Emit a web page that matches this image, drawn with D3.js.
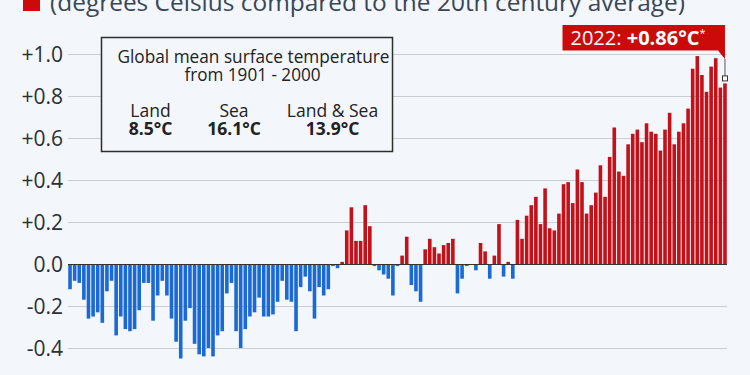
<!DOCTYPE html>
<html>
<head>
<meta charset="utf-8">
<script src="https://cdn.jsdelivr.net/npm/d3@7"></script>
<style>
  html, body { margin: 0; padding: 0; background: #f3f6fa; }
  #chart-container { width: 750px; height: 375px; overflow: hidden; }
  text { font-family: "Open Sans", "Noto Sans", sans-serif; }
</style>
</head>
<body>
<div id="chart-container"></div>
<script>
// years 1880 - 2022
const years = d3.range(1880, 2023);

// anomaly in degrees C vs 20th century average
const anomalies = [
  -0.12, -0.08, -0.09, -0.17, -0.26, -0.25, -0.23, -0.28, -0.13, -0.08,
  -0.34, -0.25, -0.31, -0.32, -0.31, -0.22, -0.09, -0.09, -0.27, -0.15,
  -0.08, -0.15, -0.26, -0.37, -0.45, -0.27, -0.21, -0.38, -0.43, -0.44,
  -0.40, -0.44, -0.34, -0.32, -0.14, -0.09, -0.32, -0.40, -0.31, -0.25,
  -0.23, -0.16, -0.25, -0.25, -0.24, -0.18, -0.08, -0.17, -0.18, -0.32,
  -0.11, -0.06, -0.13, -0.26, -0.11, -0.15, -0.12, -0.01, -0.02, 0.01,
  0.16, 0.27, 0.11, 0.11, 0.28, 0.18, -0.01, -0.03, -0.05, -0.07,
  -0.15, -0.01, 0.04, 0.13, -0.10, -0.13, -0.18, 0.07, 0.12, 0.08,
  0.05, 0.09, 0.10, 0.12, -0.14, -0.07, -0.01, 0.00, -0.03, 0.10,
  0.06, -0.07, 0.04, 0.19, -0.06, 0.01, -0.07, 0.21, 0.12, 0.23,
  0.28, 0.32, 0.19, 0.36, 0.17, 0.16, 0.24, 0.38, 0.39, 0.29,
  0.45, 0.39, 0.24, 0.28, 0.34, 0.47, 0.32, 0.51, 0.65, 0.44,
  0.42, 0.57, 0.62, 0.64, 0.58, 0.67, 0.63, 0.62, 0.54, 0.64,
  0.72, 0.57, 0.63, 0.67, 0.74, 0.93, 0.99, 0.90, 0.82, 0.94,
  0.98, 0.84, 0.86
];

const yTicks = [-0.4, -0.2, 0, 0.2, 0.4, 0.6, 0.8, 1.0];
const tickLabels = ["-0.4", "-0.2", "0.0", "+0.2", "+0.4", "+0.6", "+0.8", "+1.0"];

const boxLabels = ["Land", "Sea", "Land & Sea"];
const boxValues = ["8.5°C", "16.1°C", "13.9°C"];

const width = 750;
const height = 375;
const bg = "#f3f6fa";
const blue = "#1b69d3";
const red = "#c3111a";

const data = years.map((y, i) => ({ year: y, value: anomalies[i] }));

const svg = d3.select("#chart-container")
  .append("svg")
  .attr("width", width)
  .attr("height", height);

svg.append("rect").attr("width", width).attr("height", height).attr("fill", bg);

const x = d3.scaleBand()
  .domain(years)
  .range([68, 727])
  .paddingInner(0.22)
  .paddingOuter(0.05);

const y = d3.scaleLinear()
  .domain([-0.4, 1.0])
  .range([348, 54]);

// grid lines
svg.append("g")
  .selectAll("line")
  .data(yTicks)
  .enter()
  .append("line")
  .attr("x1", 68)
  .attr("x2", 727)
  .attr("y1", d => Math.round(y(d)) + 0.5)
  .attr("y2", d => Math.round(y(d)) + 0.5)
  .style("stroke", "#c9ccd1")
  .style("stroke-width", 1.2);

// tick labels
svg.append("g")
  .selectAll("text")
  .data(yTicks)
  .enter()
  .append("text")
  .attr("x", 63)
  .attr("y", d => y(d))
  .attr("dy", "0.36em")
  .attr("text-anchor", "end")
  .style("font-size", "21px")
  .style("fill", "#2b2f36")
  .text((d, i) => tickLabels[i]);

// bars
svg.append("g")
  .selectAll("rect")
  .data(data)
  .enter()
  .append("rect")
  .attr("x", d => x(d.year))
  .attr("width", x.bandwidth())
  .attr("y", d => y(Math.max(0, d.value)))
  .attr("height", d => Math.abs(y(d.value) - y(0)))
  .style("fill", d => d.value >= 0 ? red : blue);

// zero line
svg.append("line")
  .attr("x1", 68)
  .attr("x2", 727)
  .attr("y1", Math.round(y(0)) + 0.5)
  .attr("y2", Math.round(y(0)) + 0.5)
  .style("stroke", "#333")
  .style("stroke-width", 1);

// header (cut off at the top)
svg.append("rect")
  .attr("x", 23).attr("y", -6)
  .attr("width", 17).attr("height", 17)
  .style("fill", "#cc0a0a");

svg.append("text")
  .attr("x", 50)
  .attr("y", 11)
  .attr("textLength", 635)
  .attr("lengthAdjust", "spacingAndGlyphs")
  .style("font-size", "23px")
  .style("fill", "#3a4656")
  .text("(degrees Celsius compared to the 20th century average)");

// info box
const box = svg.append("g");
box.append("rect")
  .attr("x", 101.5).attr("y", 37.5)
  .attr("width", 291).attr("height", 114)
  .style("fill", bg)
  .style("stroke", "#2d2d2d")
  .style("stroke-width", 1.5);

box.append("text")
  .attr("x", 253.5).attr("y", 63)
  .attr("text-anchor", "middle")
  .attr("textLength", 272)
  .attr("lengthAdjust", "spacingAndGlyphs")
  .style("font-size", "17.5px")
  .style("fill", "#222")
  .text("Global mean surface temperature");

box.append("text")
  .attr("x", 252.5).attr("y", 81)
  .attr("text-anchor", "middle")
  .attr("textLength", 136)
  .attr("lengthAdjust", "spacingAndGlyphs")
  .style("font-size", "17.5px")
  .style("fill", "#222")
  .text("from 1901 - 2000");

const colX = [150.5, 234, 332.5];

box.selectAll(".lbl")
  .data(boxLabels)
  .enter()
  .append("text")
  .attr("class", "lbl")
  .attr("x", (d, i) => colX[i])
  .attr("y", 116.5)
  .attr("text-anchor", "middle")
  .style("font-size", "17.5px")
  .style("fill", "#222")
  .text(d => d);

box.selectAll(".val")
  .data(boxValues)
  .enter()
  .append("text")
  .attr("class", "val")
  .attr("x", (d, i) => colX[i])
  .attr("y", 135)
  .attr("text-anchor", "middle")
  .style("font-size", "17.5px")
  .style("font-weight", "bold")
  .style("fill", "#222")
  .text(d => d);

// callout for the last year
const last = data[data.length - 1];
const cx = x(last.year) + x.bandwidth() / 2;
const cy = y(last.value);

const callout = svg.append("g");
callout.append("path")
  .attr("d", `M562.5,25 H${cx} V59 L${cx - 7},50.5 H562.5 Z`)
  .style("fill", "#cc0a0a");

callout.append("line")
  .attr("x1", cx).attr("x2", cx)
  .attr("y1", 59).attr("y2", cy - 7)
  .style("stroke", "#555")
  .style("stroke-width", 1);

callout.append("rect")
  .attr("x", cx - 2.5).attr("y", cy - 7.5)
  .attr("width", 5).attr("height", 5)
  .style("fill", "#fff")
  .style("stroke", "#333")
  .style("stroke-width", 1);

const label = callout.append("text")
  .attr("x", 570.5)
  .attr("y", 44.5)
  .style("font-size", "20px")
  .style("fill", "#fff");
label.append("tspan").text(last.year + ": ");
label.append("tspan").style("font-weight", "bold").text("+" + last.value.toFixed(2) + "°C");
label.append("tspan").attr("dy", -8).style("font-size", "11px").text("*");
</script>
</body>
</html>
